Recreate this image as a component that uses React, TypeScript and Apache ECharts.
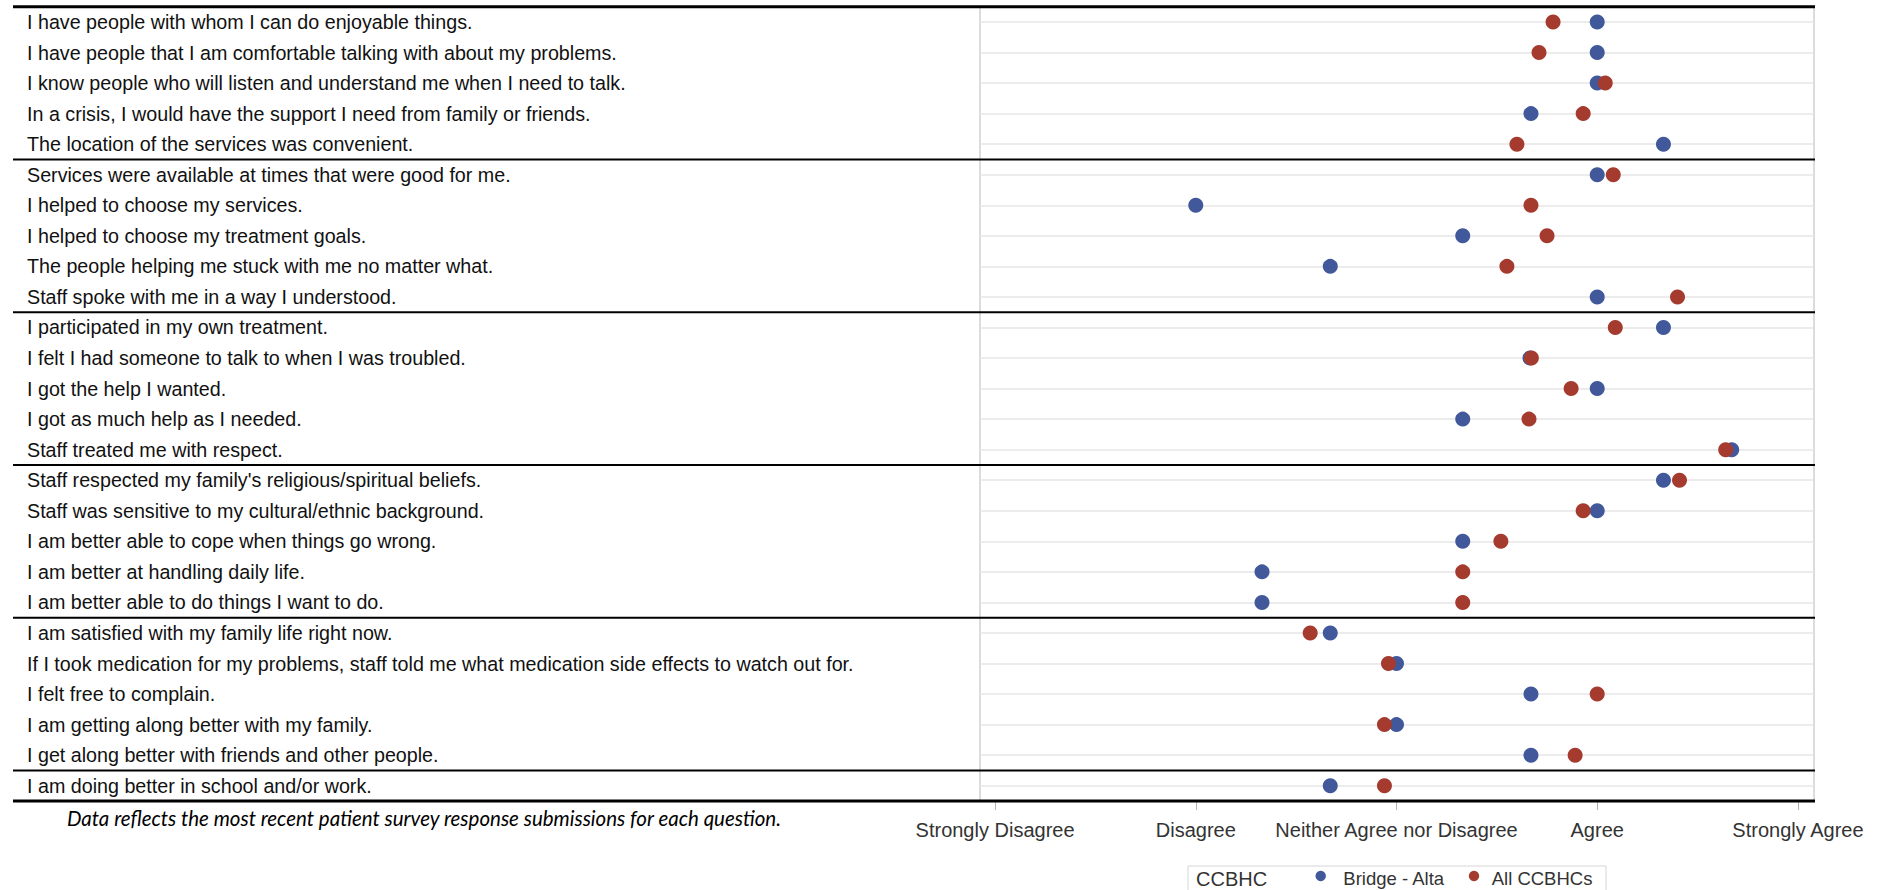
import React, { useEffect, useRef } from "react";
import * as echarts from "echarts";

const questions = [
  "I have people with whom I can do enjoyable things.",
  "I have people that I am comfortable talking with about my problems.",
  "I know people who will listen and understand me when I need to talk.",
  "In a crisis, I would have the support I need from family or friends.",
  "The location of the services was convenient.",
  "Services were available at times that were good for me.",
  "I helped to choose my services.",
  "I helped to choose my treatment goals.",
  "The people helping me stuck with me no matter what.",
  "Staff spoke with me in a way I understood.",
  "I participated in my own treatment.",
  "I felt I had someone to talk to when I was troubled.",
  "I got the help I wanted.",
  "I got as much help as I needed.",
  "Staff treated me with respect.",
  "Staff respected my family's religious/spiritual beliefs.",
  "Staff was sensitive to my cultural/ethnic background.",
  "I am better able to cope when things go wrong.",
  "I am better at handling daily life.",
  "I am better able to do things I want to do.",
  "I am satisfied with my family life right now.",
  "If I took medication for my problems, staff told me what medication side effects to watch out for.",
  "I felt free to complain.",
  "I am getting along better with my family.",
  "I get along better with friends and other people.",
  "I am doing better in school and/or work.",
];

const bridgeAlta = [
  4.0, 4.0, 4.0, 3.67, 4.33,
  4.0, 2.0, 3.33, 2.67, 4.0,
  4.33, 3.665, 4.0, 3.33, 4.67,
  4.33, 4.0, 3.33, 2.33, 2.33,
  2.67, 3.0, 3.67, 3.0, 3.67,
  2.67,
];

const allCCBHCs = [
  3.78, 3.71, 4.04, 3.93, 3.6,
  4.08, 3.67, 3.75, 3.55, 4.4,
  4.09, 3.672, 3.87, 3.66, 4.64,
  4.41, 3.93, 3.52, 3.33, 3.33,
  2.57, 2.96, 4.0, 2.94, 3.89,
  2.94,
];

// Row counts after which a group divider is drawn
const groupEnds = [5, 10, 15, 20, 25];

const scaleValues = [1, 2, 3, 4, 5];
const scaleLabels = [
  "Strongly Disagree",
  "Disagree",
  "Neither Agree nor Disagree",
  "Agree",
  "Strongly Agree",
];

const seriesNames = ["Bridge - Alta", "All CCBHCs"];
const seriesColors = ["#41589b", "#a53b2f"];
const legendTitle = "CCBHC";
const footnote =
  "Data reflects the most recent patient survey response submissions for each question.";

const FONT = "'Liberation Sans', Arial, sans-serif";

export default function App() {
  const ref = useRef<HTMLDivElement>(null);

  useEffect(() => {
    const chart = echarts.init(ref.current!, null, { renderer: "svg" });

    const option: any = {
      animation: false,
      backgroundColor: "#ffffff",
      textStyle: { fontFamily: FONT },
      grid: {
        left: 980,
        right: 73,
        top: 6.7,
        bottom: 89,
        containLabel: false,
        outerBoundsMode: "none",
        show: true,
        borderColor: "#b8b8b8",
        borderWidth: 1,
        backgroundColor: "transparent",
      },
      xAxis: {
        type: "value",
        min: 0.925,
        max: 5.08,
        axisLine: { show: false },
        splitLine: { show: false },
        axisTick: {
          show: true,
          customValues: scaleValues,
          length: 9,
          lineStyle: { color: "#b5b5b5", width: 1 },
        },
        axisLabel: {
          show: true,
          customValues: scaleValues,
          margin: 19,
          fontSize: 20,
          fontFamily: FONT,
          color: "#333333",
          formatter: (v: number) => {
            const i = scaleValues.indexOf(Math.round(v));
            return i >= 0 ? scaleLabels[i] : "";
          },
        },
      },
      yAxis: {
        type: "category",
        inverse: true,
        data: questions,
        axisLine: { show: false },
        axisTick: { show: false },
        splitLine: { show: false },
        axisLabel: {
          interval: 0,
          align: "left",
          margin: 953,
          fontSize: 19.7,
          fontFamily: FONT,
          color: "#111111",
        },
      },
      legend: { show: false },
      series: [
        {
          name: "rows",
          type: "scatter",
          data: [],
          z: 1,
          zlevel: 0,
          silent: true,
          markLine: {
            silent: true,
            z: 0,
            symbol: ["none", "none"],
            label: { show: false },
            lineStyle: { color: "#e6e6e6", width: 1.5, type: "solid" },
            data: questions.map((q) => ({ yAxis: q })),
          },
        },
        {
          name: seriesNames[0],
          type: "scatter",
          symbol: "circle",
          symbolSize: 15,
          z: 6,
          itemStyle: { color: seriesColors[0], opacity: 1 },
          data: questions.map((q, i) => [bridgeAlta[i], q]),
        },
        {
          name: seriesNames[1],
          type: "scatter",
          symbol: "circle",
          symbolSize: 15,
          z: 7,
          itemStyle: { color: seriesColors[1], opacity: 1 },
          data: questions.map((q, i) => [allCCBHCs[i], q]),
        },
      ],
    };

    chart.setOption(option);

    const yPix = (i: number) => chart.convertToPixel({ yAxisIndex: 0 }, i) as number;
    const band = yPix(1) - yPix(0);
    const topY = yPix(0) - band / 2;
    const bottomY = yPix(questions.length - 1) + band / 2;
    const x1 = 13;
    const x2 = 1815;

    const lines: any[] = [
      {
        type: "line",
        shape: { x1, y1: topY, x2, y2: topY },
        style: { stroke: "#000", lineWidth: 3 },
        z: 20,
      },
      {
        type: "line",
        shape: { x1, y1: bottomY, x2, y2: bottomY },
        style: { stroke: "#000", lineWidth: 3 },
        z: 20,
      },
      ...groupEnds.map((e) => {
        const y = (yPix(e - 1) + yPix(e)) / 2;
        return {
          type: "line",
          shape: { x1, y1: y, x2, y2: y },
          style: { stroke: "#000", lineWidth: 2 },
          z: 20,
        };
      }),
    ];

    // Legend drawn as graphics built from the series names / colours
    const legendDotX = [1320.7, 1474];
    const legendTextX = [1343.3, 1491.7];
    const legendItems: any[] = [];
    seriesNames.forEach((name, i) => {
      legendItems.push({
        type: "circle",
        z: 21,
        shape: { cx: legendDotX[i], cy: 876, r: 5.2 },
        style: { fill: seriesColors[i] },
      });
      legendItems.push({
        type: "text",
        z: 21,
        style: {
          text: name,
          x: legendTextX[i],
          y: 878.5,
          fontFamily: FONT,
          fontSize: 18.5,
          fill: "#333333",
          textAlign: "left",
          verticalAlign: "middle",
        },
      });
    });

    chart.setOption({
      graphic: [
        ...lines,
        {
          type: "text",
          z: 20,
          style: {
            text: footnote,
            x: 424,
            y: 818,
            fontFamily: "Lato, 'Open Sans', sans-serif",
            fontStyle: "italic",
            fontSize: 20.5,
            fill: "#000000",
            textAlign: "center",
            verticalAlign: "middle",
          },
        },
        {
          type: "rect",
          z: 0,
          shape: { x: 1188, y: 866, width: 418, height: 40 },
          style: { fill: "#ffffff", stroke: "#d6d6d6", lineWidth: 1 },
        },
        {
          type: "text",
          z: 20,
          style: {
            text: legendTitle,
            x: 1196,
            y: 878.5,
            fontFamily: FONT,
            fontSize: 20,
            fill: "#333333",
            textAlign: "left",
            verticalAlign: "middle",
          },
        },
        ...legendItems,
      ],
    });

    return () => chart.dispose();
  }, []);

  return (
    <div
      ref={ref}
      style={{ position: "absolute", left: 0, top: 0, width: 1887, height: 890 }}
    />
  );
}
